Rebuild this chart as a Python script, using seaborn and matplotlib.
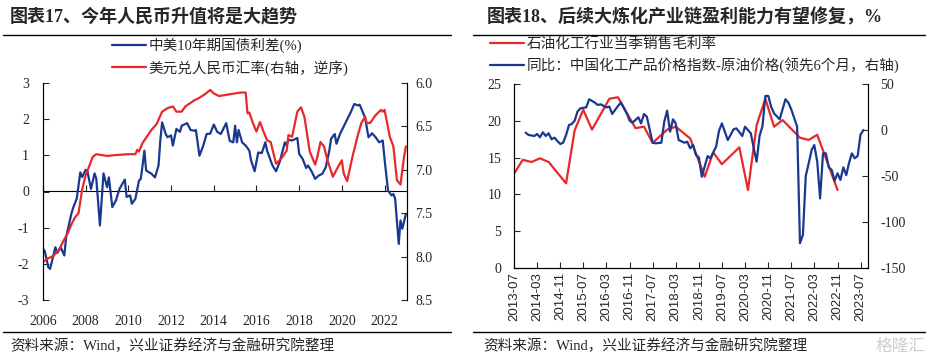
import matplotlib
matplotlib.use("Agg")
import matplotlib.dates as mdates
import matplotlib.pyplot as plt
import pandas as pd
import seaborn as sns
from matplotlib.lines import Line2D
from matplotlib.ticker import FormatStrFormatter

# ---- left chart: China-US 10y spread vs USD/CNY (inverted) ----
spread_dates = [
    "2006-01", "2006-02", "2006-04", "2006-05", "2006-06", "2006-08", "2006-09", "2006-11",
    "2007-01", "2007-02", "2007-05", "2007-06", "2007-08", "2007-10", "2007-11",
    "2008-01", "2008-02", "2008-04", "2008-06", "2008-07", "2008-09", "2008-11",
    "2009-01", "2009-02", "2009-04", "2009-06", "2009-08", "2009-11", "2009-12",
    "2010-02", "2010-03", "2010-05", "2010-07", "2010-08", "2010-09", "2010-10", "2010-11",
    "2011-02", "2011-04", "2011-06", "2011-07", "2011-08", "2011-10", "2011-11",
    "2012-01", "2012-02", "2012-04", "2012-06", "2012-07", "2012-10", "2012-12",
    "2013-02", "2013-03", "2013-05", "2013-07", "2013-09", "2013-11",
    "2014-01", "2014-03", "2014-05", "2014-08", "2014-10", "2014-12",
    "2015-01", "2015-02", "2015-03", "2015-05", "2015-07", "2015-09", "2015-10", "2015-12",
    "2016-02", "2016-04", "2016-06", "2016-07", "2016-10", "2016-12",
    "2017-02", "2017-05", "2017-06", "2017-07", "2017-09", "2017-12",
    "2018-01", "2018-03", "2018-05", "2018-06", "2018-08", "2018-10", "2018-12",
    "2019-02", "2019-04", "2019-06", "2019-07", "2019-09", "2019-10", "2019-12",
    "2020-03", "2020-06", "2020-08", "2020-10", "2020-11",
    "2021-02", "2021-04", "2021-06", "2021-08", "2021-10", "2021-12",
    "2022-01", "2022-03", "2022-05", "2022-06", "2022-07", "2022-09", "2022-10", "2022-11",
    "2023-01",
]
spread_values = [
    -1.58, -1.65, -2.09, -2.14, -1.95, -1.54, -1.70, -1.55,
    -1.77, -1.26, -0.62, -0.45, -0.20, 0.53, 0.40,
    0.60, 0.55, 0.07, 0.50, 0.35, -0.94, 0.50,
    0.12, 0.39, -0.43, -0.25, 0.07, 0.33, -0.15,
    -0.11, -0.34, -0.20, 0.30, 0.35, 0.72, 1.13, 0.58,
    0.49, 0.39, 0.72, 1.41, 1.91, 1.59, 1.50,
    1.55, 1.27, 1.73, 1.65, 1.82, 1.89, 1.70,
    1.68, 1.70, 0.99, 1.25, 1.59, 1.60,
    1.85, 1.65, 1.59, 1.89, 1.40, 1.36,
    1.82, 1.36, 1.70, 1.36, 1.27, 1.13, 0.86, 0.56,
    1.08, 1.06, 1.36, 1.13, 0.72, 0.56,
    0.81, 1.36, 1.27, 1.43, 1.41, 1.48,
    1.04, 0.90, 0.65, 0.72, 0.56, 0.35, 0.44,
    0.49, 0.67, 1.13, 1.46, 1.59, 1.32, 1.59,
    1.89, 2.19, 2.42, 2.38, 2.40,
    2.05, 1.50, 1.61, 1.50, 1.36, 1.41,
    0.90, 0.03, -0.11, -0.07, -0.20, -1.45, -0.80, -1.03,
    -0.62,
]

fx_dates = [
    "2006-01", "2006-04", "2006-07", "2006-10", "2007-01", "2007-03", "2007-05", "2007-07", "2007-09", "2007-11",
    "2008-01", "2008-03", "2008-05", "2008-07", "2008-10", "2009-01", "2009-06", "2010-01", "2010-05", "2010-06",
    "2010-07", "2010-09", "2010-12",
    "2011-02", "2011-05", "2011-08", "2011-11", "2012-02", "2012-04", "2012-07", "2012-09",
    "2013-02", "2013-05", "2013-08", "2013-11", "2014-01", "2014-04", "2014-07", "2014-10",
    "2015-01", "2015-04", "2015-07", "2015-08", "2015-09", "2015-11", "2016-01", "2016-03", "2016-05", "2016-07",
    "2016-09", "2016-12",
    "2017-03", "2017-06", "2017-07", "2017-09", "2017-12", "2018-02", "2018-04", "2018-07", "2018-10", "2018-11",
    "2019-01", "2019-03", "2019-05", "2019-08", "2019-10", "2020-01", "2020-02", "2020-04", "2020-07", "2020-10",
    "2020-12",
    "2021-02", "2021-03", "2021-05", "2021-08", "2021-11", "2021-12", "2022-01", "2022-04", "2022-06", "2022-08",
    "2022-10", "2022-12", "2023-01",
]
fx_values = [
    8.06, 8.02, 7.99, 7.92, 7.80, 7.73, 7.63, 7.55, 7.50, 7.23,
    7.06, 6.96, 6.85, 6.82, 6.83, 6.84, 6.83, 6.82, 6.82, 6.77, 6.79, 6.69, 6.60,
    6.54, 6.47, 6.33, 6.29, 6.27, 6.33, 6.33, 6.27,
    6.20, 6.17, 6.13, 6.08, 6.12, 6.15, 6.14, 6.13,
    6.12, 6.11, 6.11, 6.35, 6.34, 6.46, 6.56, 6.45, 6.56, 6.66, 6.68, 6.93,
    6.87, 6.78, 6.60, 6.62, 6.33, 6.28, 6.39, 6.79, 6.94, 6.87,
    6.68, 6.73, 6.89, 7.08, 7.00, 6.89, 7.04, 7.13, 6.85, 6.60, 6.46,
    6.39, 6.46, 6.46, 6.37, 6.31, 6.33, 6.31, 6.62, 6.73, 7.12, 7.17, 6.85, 6.73,
]

# ---- right chart: petrochemical gross margin vs chem price index spread ----
margin_dates = [
    "2013-07", "2013-10", "2014-01", "2014-04", "2014-07", "2015-01", "2015-04", "2015-07", "2015-10",
    "2016-04", "2016-07", "2017-01", "2017-04", "2017-07", "2017-12", "2018-03", "2018-08", "2019-01",
    "2019-04", "2019-07", "2020-01", "2020-04", "2020-07", "2020-10", "2021-01", "2021-04", "2021-10",
    "2022-01", "2022-04", "2022-11",
]
margin_values = [
    12.8, 14.7, 14.4, 14.9, 14.4, 11.5, 18.7, 21.5, 18.8,
    23.0, 23.2, 19.0, 19.2, 17.0, 18.8, 19.2, 17.6, 12.4,
    15.7, 14.1, 16.4, 10.6, 19.4, 23.0, 19.2, 20.1, 17.7,
    17.4, 18.1, 10.6,
]

chem_dates = [
    "2013-11", "2013-12", "2014-02", "2014-03", "2014-04", "2014-05", "2014-06", "2014-07", "2014-08",
    "2014-09", "2014-10", "2014-11", "2014-12", "2015-01", "2015-02", "2015-03", "2015-04", "2015-05",
    "2015-06", "2015-08", "2015-09", "2015-11", "2015-12", "2016-01", "2016-03", "2016-04", "2016-05",
    "2016-07", "2016-08", "2016-10", "2016-11", "2016-12", "2017-01", "2017-02", "2017-03", "2017-04",
    "2017-05", "2017-07", "2017-08", "2017-10", "2017-11", "2017-12", "2018-01", "2018-02", "2018-03",
    "2018-04", "2018-06", "2018-07", "2018-08", "2018-09", "2018-10", "2018-11", "2018-12", "2019-02",
    "2019-03", "2019-05", "2019-06", "2019-07", "2019-08", "2019-09", "2019-10", "2019-11", "2019-12",
    "2020-02", "2020-03", "2020-05", "2020-06", "2020-07", "2020-08", "2020-09", "2020-10", "2020-11",
    "2020-12", "2021-01", "2021-03", "2021-05", "2021-06", "2021-07", "2021-09", "2021-10", "2021-11",
    "2021-12", "2022-01", "2022-02", "2022-03", "2022-04", "2022-05", "2022-06", "2022-07", "2022-08",
    "2022-09", "2022-10", "2022-11", "2022-12", "2023-01", "2023-02", "2023-03", "2023-04", "2023-05",
    "2023-06", "2023-07", "2023-08",
]
chem_values = [
    -2.9, -5.4, -6.5, -4.3, -7.9, -2.5, -6.5, -3.6, -10.1,
    -8.3, -12.0, -15.2, -13.8, -5.4, 5.4, 6.5, 10.1, 19.9,
    23.6, 24.6, 33.4, 29.7, 27.2, 27.9, 24.5, 25.5, 17.4,
    26.1, 29.7, 18.1, 10.1, 8.0, 10.9, 13.8, 7.2, 17.4,
    14.5, -13.8, -14.5, -13.8, 9.1, 21.0, -1.8, 11.6, 7.2,
    -10.9, -13.8, -12.7, -19.9, -16.3, -27.2, -29.7, -50.8, -28.3,
    -30.8, -18.1, -0.8, 7.2, -1.8, -10.9, -5.4, 0.8, 1.8,
    -6.5, 3.6, -3.6, -19.9, -34.4, -6.5, 4.3, 37.0, 37.0,
    25.4, 18.1, 11.6, 33.4, 29.7, 22.5, 3.6, -123.0, -114.0,
    -50.0, -36.2, -21.7, -16.3, -34.4, -74.3, -25.4, -25.4, -40.6,
    -43.5, -55.1, -47.1, -54.3, -40.6, -49.0, -36.2, -25.4, -30.8,
    -28.3, -5.0, 0.0,
]

right_xticks = pd.date_range("2013-07-01", "2023-07-01", freq="8MS")

BLUE = "#1a3890"
RED = "#e8282b"
W, H = 929, 358

sns.set_style("white")
plt.rcParams["font.family"] = ["Liberation Serif", "Noto Sans CJK SC"]
plt.rcParams["axes.unicode_minus"] = False


def frame(x0, y0, x1, y1):
    return [x0 / W, 1 - y1 / H, (x1 - x0) / W, (y1 - y0) / H]


def series(dates, values):
    return pd.DataFrame({"date": pd.to_datetime(dates), "value": values})


def clean(ax):
    if ax.get_legend() is not None:
        ax.get_legend().remove()
    ax.set_xlabel("")
    ax.set_ylabel("")
    for side in ["left", "right", "top", "bottom"]:
        ax.spines[side].set_color("black")
        ax.spines[side].set_linewidth(0.8)
    ax.spines["top"].set_visible(False)


fig = plt.figure(figsize=(9.29, 3.58), dpi=100)

# left panel
ax1 = fig.add_axes(frame(43, 83, 407, 300))
ax1r = ax1.twinx()
sns.lineplot(data=series(spread_dates, spread_values), x="date", y="value", ax=ax1,
             color=BLUE, linewidth=1.6, label="中美10年期国债利差(%)")
sns.lineplot(data=series(fx_dates, fx_values), x="date", y="value", ax=ax1r,
             color=RED, linewidth=1.6, label="美元兑人民币汇率(右轴，逆序)")
for ax in (ax1, ax1r):
    clean(ax)
    ax.spines["bottom"].set_visible(False)
ax1.set_xlim(pd.Timestamp("2006-01-01"), pd.Timestamp("2023-01-20"))
ax1.set_ylim(-3, 3)
ax1.set_yticks(range(-3, 4))
ax1r.set_ylim(8.5, 6.0)
ax1r.set_yticks([6.0, 6.5, 7.0, 7.5, 8.0, 8.5])
ax1r.yaxis.set_major_formatter(FormatStrFormatter("%.1f"))
ax1.xaxis.set_major_locator(mdates.YearLocator(2))
ax1.xaxis.set_major_formatter(mdates.DateFormatter("%Y"))
ax1.tick_params(axis="x", bottom=True, length=0, pad=11, labelsize=10)
ax1.tick_params(axis="y", left=True, direction="in", length=4, width=0.8, pad=10, labelsize=10)
ax1r.tick_params(axis="y", right=True, direction="in", length=4, width=0.8, pad=6, labelsize=10)

zero_axis = ax1.secondary_xaxis(0.5)
zero_axis.set_xticks(ax1.get_xticks())
zero_axis.spines["top"].set_color("black")
zero_axis.spines["top"].set_linewidth(0.8)
zero_axis.tick_params(axis="x", top=True, direction="out", length=4, width=0.8,
                      labeltop=False, labelbottom=False)

fig.legend([ax1.get_lines()[0], ax1r.get_lines()[0]],
           ["中美10年期国债利差(%)", "美元兑人民币汇率(右轴，逆序)"],
           loc="upper left", bbox_to_anchor=(112 / W, 1 - 38 / H), frameon=False,
           fontsize=10.5, handlelength=2.3, handletextpad=0.2, labelspacing=0.45,
           borderpad=0, borderaxespad=0)

# right panel
ax2 = fig.add_axes(frame(514, 84, 868, 268))
ax2r = ax2.twinx()
sns.lineplot(data=series(margin_dates, margin_values), x="date", y="value", ax=ax2,
             color=RED, linewidth=1.6, label="石油化工行业当季销售毛利率")
sns.lineplot(data=series(chem_dates, chem_values), x="date", y="value", ax=ax2r,
             color=BLUE, linewidth=1.6, label="同比：中国化工产品价格指数-原油价格(领先6个月，右轴)")
for ax in (ax2, ax2r):
    clean(ax)
ax2.set_xlim(pd.Timestamp("2013-07-01"), pd.Timestamp("2023-09-18"))
ax2.set_ylim(0, 25)
ax2.set_yticks(range(0, 26, 5))
ax2r.set_ylim(-150, 50)
ax2r.set_yticks(range(-150, 51, 50))
ax2.set_xticks(right_xticks)
ax2.set_xticklabels([d.strftime("%Y-%m") for d in right_xticks], rotation=90,
                    fontfamily="Liberation Sans", fontsize=9.5)
ax2.tick_params(axis="x", bottom=True, direction="in", length=4, width=0.8, pad=3)
ax2.tick_params(axis="y", left=True, direction="in", length=4, width=0.8, pad=9, labelsize=10)
ax2r.tick_params(axis="y", right=True, direction="in", length=4, width=0.8, pad=9, labelsize=10)

fig.legend([ax2.get_lines()[0], ax2r.get_lines()[0]],
           ["石油化工行业当季销售毛利率", "同比：中国化工产品价格指数-原油价格(领先6个月，右轴)"],
           loc="upper left", bbox_to_anchor=(490 / W, 1 - 37 / H), frameon=False,
           fontsize=10.5, handlelength=2.3, handletextpad=0.2, labelspacing=0.45,
           borderpad=0, borderaxespad=0)

# titles, rules and source notes
fig.text(10 / W, 1 - 17 / H, "图表17、今年人民币升值将是大趋势", fontsize=13,
         fontweight="bold", va="center")
fig.text(487 / W, 1 - 17 / H, "图表18、后续大炼化产业链盈利能力有望修复，%", fontsize=13,
         fontweight="bold", va="center")
for x0, x1 in [(3, 451), (473, 925)]:
    for y in (35, 332):
        fig.add_artist(Line2D([x0 / W, x1 / W], [1 - y / H, 1 - y / H], color="black", lw=1))
for x in (10, 483):
    fig.text(x / W, 1 - 346 / H, "资料来源：Wind，兴业证券经济与金融研究院整理",
             fontsize=10.5, va="center")
fig.text(925 / W, 1 - 346 / H, "格隆汇", ha="right", va="center", fontsize=12,
         color="#cfcfcf", family=["Noto Sans CJK SC"])

fig.savefig("out.png", dpi=100, facecolor="white")
